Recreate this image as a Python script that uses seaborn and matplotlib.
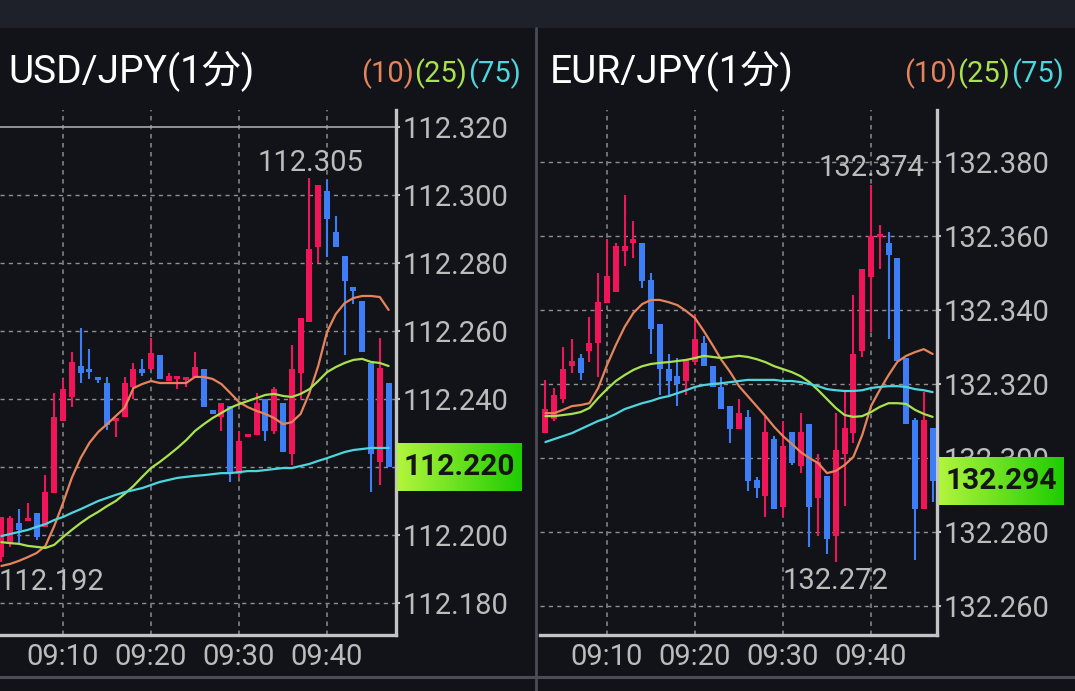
import numpy as np
import pandas as pd
import matplotlib
matplotlib.use("Agg")
import matplotlib.pyplot as plt
import seaborn as sns
from matplotlib.lines import Line2D
from matplotlib.patches import Rectangle
from matplotlib.colors import LinearSegmentedColormap

# ----- Dados: 1 vela por minuto, 09:03 .. 09:47 -----
minutes = list(range(3, 48))
time_ticks = [10, 20, 30, 40]
time_labels = ["09:10", "09:20", "09:30", "09:40"]

usd_open = [112.1935, 112.1976, 112.2035, 112.2040, 112.2065, 112.2024, 112.2124, 112.2335, 112.2406,
            112.2497, 112.2488, 112.2465, 112.2447, 112.2335, 112.2347, 112.2435, 112.2488, 112.2488,
            112.2529, 112.2453, 112.2459, 112.2456, 112.2465, 112.2488, 112.2368, 112.2347, 112.2379,
            112.2179, 112.2288, 112.2294, 112.2400, 112.2306, 112.2388, 112.2238, 112.2476, 112.2626,
            112.2847, 112.3012, 112.2891, 112.2821, 112.2729, 112.2688, 112.2506, 112.2215, 112.2447]
usd_high = [112.2053, 112.2056, 112.2076, 112.2094, 112.2065, 112.2176, 112.2418, 112.2459, 112.2538,
            112.2609, 112.2547, 112.2465, 112.2465, 112.2341, 112.2465, 112.2506, 112.2518, 112.2579,
            112.2529, 112.2476, 112.2465, 112.2465, 112.2538, 112.2488, 112.2368, 112.2388, 112.2379,
            112.2306, 112.2297, 112.2418, 112.2400, 112.2435, 112.2388, 112.2559, 112.2638, 112.3050,
            112.3029, 112.3045, 112.2938, 112.2821, 112.2729, 112.2688, 112.2506, 112.2579, 112.2447]
usd_low = [112.1920, 112.1965, 112.1976, 112.2040, 112.1985, 112.2024, 112.2124, 112.2335, 112.2376,
           112.2447, 112.2459, 112.2447, 112.2309, 112.2288, 112.2347, 112.2400, 112.2468, 112.2488,
           112.2459, 112.2453, 112.2429, 112.2435, 112.2465, 112.2376, 112.2356, 112.2306, 112.2156,
           112.2168, 112.2288, 112.2294, 112.2276, 112.2297, 112.2244, 112.2206, 112.2400, 112.2626,
           112.2800, 112.2818, 112.2847, 112.2529, 112.2679, 112.2538, 112.2126, 112.2147, 112.2200]
usd_close = [112.2053, 112.2050, 112.2015, 112.2050, 112.1994, 112.2126, 112.2347, 112.2429, 112.2509,
             112.2476, 112.2479, 112.2456, 112.2324, 112.2341, 112.2447, 112.2488, 112.2476, 112.2535,
             112.2459, 112.2468, 112.2465, 112.2465, 112.2494, 112.2376, 112.2356, 112.2388, 112.2182,
             112.2276, 112.2297, 112.2388, 112.2306, 112.2429, 112.2244, 112.2488, 112.2638, 112.2841,
             112.3029, 112.2929, 112.2847, 112.2747, 112.2718, 112.2538, 112.2238, 112.2491, 112.2200]
usd_ma10 = [112.1909, 112.1915, 112.1924, 112.1935, 112.1947, 112.1968, 112.2026, 112.2094, 112.2168,
            112.2226, 112.2271, 112.2303, 112.2326, 112.2350, 112.2374, 112.2432, 112.2444, 112.2453,
            112.2447, 112.2447, 112.2447, 112.2447, 112.2465, 112.2465, 112.2459, 112.2444, 112.2418,
            112.2391, 112.2376, 112.2365, 112.2356, 112.2344, 112.2326, 112.2332, 112.2356, 112.2418,
            112.2497, 112.2597, 112.2650, 112.2682, 112.2697, 112.2703, 112.2703, 112.2700, 112.2662]
usd_ma25 = [112.1979, 112.1976, 112.1974, 112.1968, 112.1965, 112.1962, 112.1971, 112.1994, 112.2015,
            112.2035, 112.2053, 112.2068, 112.2085, 112.2100, 112.2121, 112.2144, 112.2171, 112.2197,
            112.2215, 112.2235, 112.2256, 112.2279, 112.2306, 112.2326, 112.2344, 112.2359, 112.2374,
            112.2385, 112.2394, 112.2403, 112.2412, 112.2415, 112.2409, 112.2406, 112.2415, 112.2429,
            112.2453, 112.2479, 112.2494, 112.2506, 112.2515, 112.2518, 112.2509, 112.2506, 112.2497]
usd_ma75 = [112.1997, 112.2003, 112.2009, 112.2015, 112.2024, 112.2032, 112.2044, 112.2053, 112.2065,
            112.2076, 112.2088, 112.2100, 112.2109, 112.2118, 112.2126, 112.2132, 112.2138, 112.2147,
            112.2156, 112.2162, 112.2168, 112.2171, 112.2174, 112.2176, 112.2179, 112.2182, 112.2182,
            112.2185, 112.2188, 112.2188, 112.2191, 112.2194, 112.2197, 112.2197, 112.2203, 112.2209,
            112.2218, 112.2226, 112.2235, 112.2244, 112.2250, 112.2253, 112.2256, 112.2256, 112.2256]

eur_open = [132.3068, 132.3106, 132.3160, 132.3249, 132.3271, 132.3290, 132.3312, 132.3420, 132.3449,
            132.3560, 132.3582, 132.3582, 132.3482, 132.3363, 132.3241, 132.3222, 132.3209, 132.3260,
            132.3312, 132.3249, 132.3193, 132.3141, 132.3079, 132.3112, 132.2941, 132.2898, 132.3052,
            132.2868, 132.3071, 132.2979, 132.3093, 132.2893, 132.2952, 132.2790, 132.3012, 132.3068,
            132.3290, 132.3490, 132.3598, 132.3582, 132.3541, 132.3270, 132.3104, 132.2863, 132.3082]
eur_high = [132.3212, 132.3190, 132.3301, 132.3322, 132.3282, 132.3382, 132.3501, 132.3593, 132.3582,
            132.3712, 132.3641, 132.3582, 132.3501, 132.3363, 132.3282, 132.3271, 132.3266, 132.3390,
            132.3331, 132.3249, 132.3220, 132.3141, 132.3160, 132.3130, 132.2950, 132.3112, 132.3060,
            132.3101, 132.3071, 132.3122, 132.3093, 132.3012, 132.2952, 132.3122, 132.3179, 132.3441,
            132.3512, 132.3740, 132.3631, 132.3612, 132.3541, 132.3270, 132.3110, 132.3179, 132.3082]
eur_low = [132.3068, 132.3101, 132.3149, 132.3231, 132.3212, 132.3260, 132.3220, 132.3420, 132.3449,
           132.3520, 132.3541, 132.3460, 132.3282, 132.3171, 132.3171, 132.3141, 132.3171, 132.3252,
           132.3249, 132.3193, 132.3133, 132.3041, 132.3079, 132.2912, 132.2893, 132.2841, 132.2863,
           132.2841, 132.2982, 132.2960, 132.2760, 132.2790, 132.2741, 132.2720, 132.2871, 132.3041,
           132.3274, 132.3341, 132.3512, 132.3322, 132.3263, 132.3093, 132.2725, 132.2863, 132.2882]
eur_close = [132.3133, 132.3171, 132.3241, 132.3263, 132.3231, 132.3312, 132.3422, 132.3493, 132.3574,
             132.3574, 132.3593, 132.3479, 132.3349, 132.3241, 132.3209, 132.3201, 132.3266, 132.3322,
             132.3249, 132.3193, 132.3133, 132.3079, 132.3122, 132.2939, 132.2920, 132.3071, 132.2863,
             132.3033, 132.2987, 132.3071, 132.2868, 132.2990, 132.2782, 132.3022, 132.3082, 132.3282,
             132.3512, 132.3601, 132.3605, 132.3550, 132.3263, 132.3093, 132.2863, 132.3104, 132.2940]
eur_ma10 = [132.3122, 132.3122, 132.3131, 132.3141, 132.3144, 132.3149, 132.3190, 132.3252, 132.3306,
            132.3355, 132.3393, 132.3417, 132.3428, 132.3428, 132.3422, 132.3414, 132.3398, 132.3379,
            132.3344, 132.3306, 132.3266, 132.3233, 132.3195, 132.3168, 132.3141, 132.3114, 132.3085,
            132.3060, 132.3039, 132.3017, 132.3001, 132.2987, 132.2960, 132.2966, 132.2982, 132.3004,
            132.3063, 132.3141, 132.3185, 132.3225, 132.3261, 132.3277, 132.3287, 132.3295, 132.3282]
eur_ma25 = [132.3114, 132.3114, 132.3117, 132.3120, 132.3125, 132.3136, 132.3163, 132.3187, 132.3209,
            132.3225, 132.3239, 132.3249, 132.3255, 132.3258, 132.3260, 132.3263, 132.3266, 132.3271,
            132.3277, 132.3274, 132.3271, 132.3274, 132.3277, 132.3274, 132.3268, 132.3260, 132.3249,
            132.3241, 132.3233, 132.3222, 132.3206, 132.3184, 132.3160, 132.3136, 132.3117, 132.3112,
            132.3114, 132.3125, 132.3139, 132.3149, 132.3149, 132.3147, 132.3131, 132.3120, 132.3112]
eur_ma75 = [132.3044, 132.3052, 132.3060, 132.3068, 132.3079, 132.3090, 132.3101, 132.3109, 132.3120,
            132.3133, 132.3141, 132.3149, 132.3155, 132.3163, 132.3168, 132.3176, 132.3184, 132.3193,
            132.3198, 132.3201, 132.3203, 132.3206, 132.3209, 132.3212, 132.3212, 132.3212, 132.3212,
            132.3209, 132.3209, 132.3206, 132.3201, 132.3195, 132.3187, 132.3184, 132.3182, 132.3182,
            132.3184, 132.3190, 132.3193, 132.3195, 132.3195, 132.3193, 132.3187, 132.3184, 132.3179]

usd_yticks = [112.180, 112.200, 112.220, 112.240, 112.260, 112.280, 112.300, 112.320]
eur_yticks = [132.260, 132.280, 132.300, 132.320, 132.340, 132.360, 132.380]

# ----- Cores -----
BG = '#111318'
TOPBAR = '#1e2129'
SEP = '#4a4c56'
UP = '#f01458'
DOWN = '#3d7df5'
MA_COLORS = {'10': '#e5845c', '25': '#a8e34f', '75': '#4cd6de'}
TXT = '#bcbcbc'
SPINE = '#c4c4c4'

sns.set_theme(style='dark', rc={'axes.facecolor': BG, 'figure.facecolor': BG})
plt.rcParams['font.family'] = ['Roboto', 'Noto Sans CJK JP', 'DejaVu Sans']

W, H = 1075, 691
fig = plt.figure(figsize=(W / 100, H / 100), dpi=100)
fig.patch.set_facecolor(BG)


def px_box(x0, x1, y_top, y_bot):
    return [x0 / W, 1 - y_bot / H, (x1 - x0) / W, (y_bot - y_top) / H]


def draw_panel(rect, xlim, ylim, o, h, l, c, ma10, ma25, ma75, yticks, top_line=None):
    ax = fig.add_axes(rect)
    ax.set_facecolor(BG)
    o, h, l, c = map(np.array, (o, h, l, c))
    x = np.array(minutes)

    # grade tracejada
    for yv in yticks:
        if yv == top_line:
            continue
        ax.axhline(yv, color='#8f8f8f', lw=1, ls=(0, (3, 3)), zorder=1)
    for xv in time_ticks:
        ax.axvline(xv, color='#7a7a7a', lw=1.3, ls=(0, (2.5, 2.5)), zorder=1)
    if top_line is not None:
        ax.axhline(top_line, color='#a8a8a8', lw=1.2, zorder=1)

    # velas
    cores = np.where(c >= o, UP, DOWN)
    ax.vlines(x, l, h, colors=cores, lw=1.5, zorder=2)
    base = np.minimum(o, c)
    altura = np.maximum(np.abs(c - o), 0.0008)
    ax.bar(x, altura, bottom=base, width=0.7, color=cores, lw=0, zorder=3)

    # medias moveis
    df_ma = pd.DataFrame({
        'minute': minutes * 3,
        'valor': list(ma10) + list(ma25) + list(ma75),
        'periodo': ['10'] * len(minutes) + ['25'] * len(minutes) + ['75'] * len(minutes),
    })
    sns.lineplot(data=df_ma, x='minute', y='valor', hue='periodo', palette=MA_COLORS,
                 ax=ax, legend=False, lw=1.6, zorder=4)

    ax.set_xlim(*xlim)
    ax.set_ylim(*ylim)
    ax.set_xlabel('')
    ax.set_ylabel('')
    ax.grid(False)

    ax.yaxis.tick_right()
    ax.set_yticks(yticks)
    ax.set_yticklabels([f"{v:.3f}" for v in yticks])
    ax.set_xticks(time_ticks)
    ax.set_xticklabels(time_labels)
    ax.tick_params(axis='y', length=3, width=1.5, color=SPINE, labelsize=21, labelcolor=TXT, pad=2)
    ax.tick_params(axis='x', length=2, width=2, color=SPINE, labelsize=21, labelcolor=TXT, pad=4)

    for lado in ['top', 'left']:
        ax.spines[lado].set_visible(False)
    for lado in ['right', 'bottom']:
        ax.spines[lado].set_visible(True)
        ax.spines[lado].set_color(SPINE)
        ax.spines[lado].set_linewidth(2.4)

    # maxima e minima
    i_max, i_min = int(np.argmax(h)), int(np.argmin(l))
    return ax, (x[i_max], h[i_max]), (x[i_min], l[i_min]), c[-1]


def price_box(ax, close, x0, x1):
    # caixa com gradiente verde no preco atual (fica por cima do rotulo do eixo)
    yd = ax.transData.transform((0, close))[1]
    y_px = H - yd
    bx = fig.add_axes(px_box(x0, x1, y_px - 24, y_px + 24))
    cmap = LinearSegmentedColormap.from_list('verde', ['#b2f53c', '#1ecc03'])
    bx.imshow(np.linspace(0, 1, 200).reshape(1, -1), aspect='auto', cmap=cmap, extent=(0, 1, 0, 1))
    bx.set_axis_off()
    bx.text(0.5, 0.5, f"{close:.3f}", ha='center', va='center', fontsize=21.5,
            fontweight='bold', color='#151515', transform=bx.transAxes)


# ----- Painel USD/JPY -----
ax1, hi1, lo1, last1 = draw_panel(px_box(0, 396, 110, 635), (2.841, 47.841), (112.17059, 112.325),
                                  usd_open, usd_high, usd_low, usd_close,
                                  usd_ma10, usd_ma25, usd_ma75, usd_yticks, top_line=112.320)
ax1.annotate(f"{hi1[1]:.3f}", hi1, xytext=(1, 11), textcoords='offset points',
             ha='center', va='center', fontsize=21, color=TXT, annotation_clip=False)
ax1.annotate(f"{lo1[1]:.3f}", lo1, xytext=(36, -14.5), textcoords='offset points',
             ha='center', va='center', fontsize=21, color=TXT, annotation_clip=False)

# ----- Painel EUR/JPY -----
ax2, hi2, lo2, last2 = draw_panel(px_box(540, 937, 110, 635), (2.386, 47.5), (132.25225, 132.39414),
                                  eur_open, eur_high, eur_low, eur_close,
                                  eur_ma10, eur_ma25, eur_ma75, eur_yticks)
ax2.annotate(f"{hi2[1]:.3f}", hi2, xytext=(0, 12), textcoords='offset points',
             ha='center', va='center', fontsize=21, color=TXT, annotation_clip=False)
ax2.annotate(f"{lo2[1]:.3f}", lo2, xytext=(0, -13.5), textcoords='offset points',
             ha='center', va='center', fontsize=21, color=TXT, annotation_clip=False)

price_box(ax1, last1, 397, 522)
price_box(ax2, last2, 939, 1064)

# ----- Moldura: barra de cima e separadores -----
fig.add_artist(Rectangle((0, 1 - 28 / H), 1, 28 / H, transform=fig.transFigure,
                         color=TOPBAR, lw=0, zorder=0))
fig.add_artist(Line2D([536 / W, 536 / W], [0, 1 - 28 / H], transform=fig.transFigure,
                      color=SEP, lw=2))
fig.add_artist(Line2D([0, 1], [14 / H, 14 / H], transform=fig.transFigure, color=SEP, lw=2.2))

# ----- Titulos e legenda das medias -----
for x0, nome, leg_x in [(8, "USD/JPY(1分)", [361, 414, 468]), (550, "EUR/JPY(1分)", [904, 957, 1011])]:
    fig.text(x0 / W, 1 - 82 / H, nome, fontsize=28, color='white', va='baseline', ha='left')
    for lx, per in zip(leg_x, ['10', '25', '75']):
        fig.text(lx / W, 1 - 82 / H, f"({per})", fontsize=21, color=MA_COLORS[per],
                 va='baseline', ha='left')

fig.savefig('out.png', dpi=100, facecolor=fig.get_facecolor())
